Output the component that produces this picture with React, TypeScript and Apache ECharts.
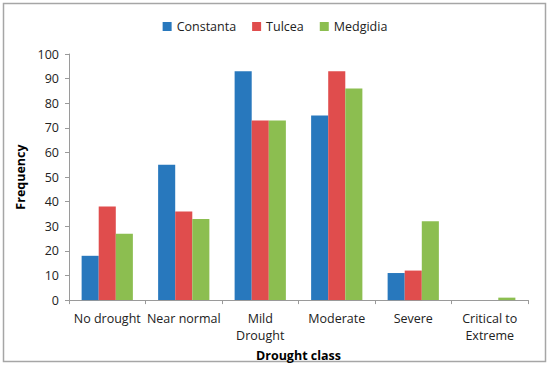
import React, { useEffect, useRef } from "react";
import * as echarts from "echarts";

const categories = ["No drought", "Near normal", "Mild\nDrought", "Moderate", "Severe", "Critical to\nExtreme"];
const constanta = [18, 55, 93, 75, 11, 0];
const tulcea = [38, 36, 73, 93, 12, 0];
const medgidia = [27, 33, 73, 86, 32, 1];
const yTicks = { min: 0, max: 100, interval: 10 };

const FONT = "'Open Sans', 'Liberation Sans', sans-serif";

export default function App() {
  const ref = useRef<HTMLDivElement>(null);
  useEffect(() => {
    const chart = echarts.init(ref.current!, null, { renderer: "svg" });
    chart.setOption({
      animation: false,
      textStyle: { fontFamily: FONT },
      graphic: [
        {
          type: "rect",
          shape: { x: 3.5, y: 3.5, width: 542, height: 358 },
          style: { fill: "none", stroke: "#a6a6a6", lineWidth: 1.5 },
        },
      ],
      legend: {
        top: 15,
        left: "center",
        itemWidth: 9,
        itemHeight: 9,
        itemGap: 16,
        icon: "rect",
        textStyle: { fontSize: 12.5, color: "#222", fontFamily: FONT },
        data: ["Constanta", "Tulcea", "Medgidia"],
      },
      grid: { left: 69, right: 22, top: 54, bottom: 66, containLabel: false },
      xAxis: {
        type: "category",
        data: categories,
        name: "Drought class",
        nameLocation: "middle",
        nameGap: 44,
        nameTextStyle: { fontWeight: "bold", fontSize: 12.5, color: "#000", fontFamily: FONT },
        axisLine: { lineStyle: { color: "#9a9a9a" } },
        axisTick: { show: true, alignWithLabel: false, length: 4, lineStyle: { color: "#9a9a9a" } },
        axisLabel: { fontSize: 12.5, color: "#222", lineHeight: 17, margin: 10, interval: 0, fontFamily: FONT },
      },
      yAxis: {
        type: "value",
        min: yTicks.min,
        max: yTicks.max,
        interval: yTicks.interval,
        name: "Frequency",
        nameLocation: "middle",
        nameGap: 38,
        nameTextStyle: { fontWeight: "bold", fontSize: 12.5, color: "#000", fontFamily: FONT },
        axisLine: { show: true, lineStyle: { color: "#9a9a9a" } },
        axisTick: { show: true, length: 4, lineStyle: { color: "#9a9a9a" } },
        splitLine: { show: false },
        axisLabel: { fontSize: 12.5, color: "#222", margin: 10, fontFamily: FONT },
      },
      series: [
        { name: "Constanta", type: "bar", data: constanta, itemStyle: { color: "#2878BD" }, barGap: "0%", barCategoryGap: "33%" },
        { name: "Tulcea", type: "bar", data: tulcea, itemStyle: { color: "#E04D4D" }, barGap: "0%", barCategoryGap: "33%" },
        { name: "Medgidia", type: "bar", data: medgidia, itemStyle: { color: "#8CBE50" }, barGap: "0%", barCategoryGap: "33%" },
      ],
    });
    return () => chart.dispose();
  }, []);
  return (
    <div
      ref={ref}
      style={{ position: "fixed", left: 0, top: 0, width: 550, height: 367, background: "#fff" }}
    />
  );
}
